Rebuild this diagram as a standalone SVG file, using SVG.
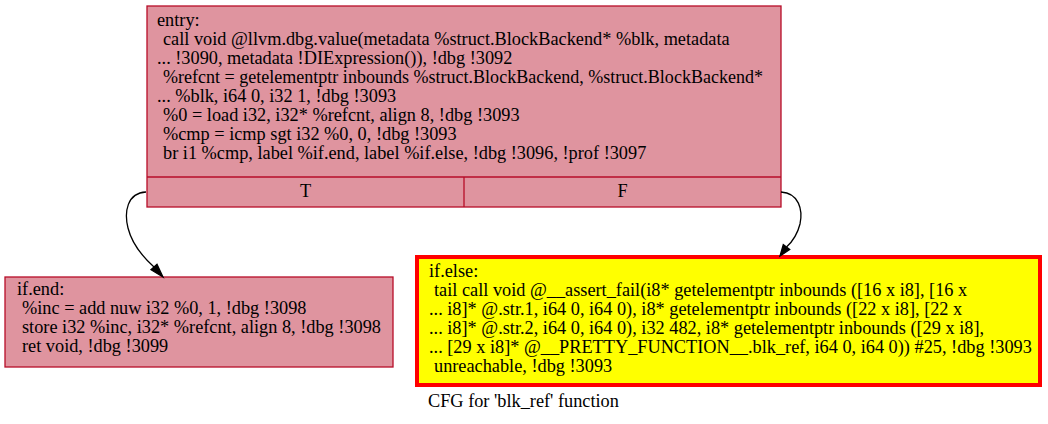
<svg xmlns="http://www.w3.org/2000/svg" width="1048" height="424" viewBox="0 0 1048 424">
<style>
text { font-family: "Liberation Serif", "Times New Roman", serif; font-size: 18.3px; fill: #000; }
.blk { fill: #df949f; stroke: #b70d28; stroke-width: 1.3; }
.sep { stroke: #b70d28; stroke-width: 1.3; fill: none; }
.hot { fill: #ffff00; stroke: #ff0000; stroke-width: 4; }
.edge { fill: none; stroke: #000; stroke-width: 1.3; }
.head { fill: #000; stroke: #000; stroke-width: 1.3; }
</style>
<rect width="1048" height="424" fill="#fff"/>
<g id="entry">
<rect class="blk" x="147" y="6" width="634" height="201"/>
<line class="sep" x1="147" y1="177" x2="781" y2="177"/>
<line class="sep" x1="464" y1="177" x2="464" y2="207"/>
<text x="157" y="26">entry:</text>
<text x="163" y="45">call void @llvm.dbg.value(metadata %struct.BlockBackend* %blk, metadata</text>
<text x="157" y="64">... !3090, metadata !DIExpression()), !dbg !3092</text>
<text x="163" y="83" textLength="600" lengthAdjust="spacingAndGlyphs">%refcnt = getelementptr inbounds %struct.BlockBackend, %struct.BlockBackend*</text>
<text x="157" y="102">... %blk, i64 0, i32 1, !dbg !3093</text>
<text x="163" y="121">%0 = load i32, i32* %refcnt, align 8, !dbg !3093</text>
<text x="163" y="140">%cmp = icmp sgt i32 %0, 0, !dbg !3093</text>
<text x="163" y="159">br i1 %cmp, label %if.end, label %if.else, !dbg !3096, !prof !3097</text>
<text x="305.5" y="197" text-anchor="middle">T</text>
<text x="622.5" y="197" text-anchor="middle">F</text>
</g>
<g id="if_end">
<rect class="blk" x="5" y="277" width="388" height="90"/>
<text x="17" y="295">if.end:</text>
<text x="22" y="314">%inc = add nuw i32 %0, 1, !dbg !3098</text>
<text x="22" y="333">store i32 %inc, i32* %refcnt, align 8, !dbg !3098</text>
<text x="22" y="352">ret void, !dbg !3099</text>
</g>
<g id="if_else">
<rect class="hot" x="417" y="257" width="623" height="128"/>
<text x="429" y="277">if.else:</text>
<text x="434" y="296">tail call void @__assert_fail(i8* getelementptr inbounds ([16 x i8], [16 x</text>
<text x="429" y="315">... i8]* @.str.1, i64 0, i64 0), i8* getelementptr inbounds ([22 x i8], [22 x</text>
<text x="429" y="334">... i8]* @.str.2, i64 0, i64 0), i32 482, i8* getelementptr inbounds ([29 x i8],</text>
<text x="429" y="353">... [29 x i8]* @__PRETTY_FUNCTION__.blk_ref, i64 0, i64 0)) #25, !dbg !3093</text>
<text x="434" y="372">unreachable, !dbg !3093</text>
</g>
<g id="edges">
<path class="edge" d="M146,192 C127,193 124,212 128,228 C132,244 144,258 154,267"/>
<polygon class="head" points="163,277 151,269.7 157,264.3"/>
<path class="edge" d="M781,192 C799,193 803,210 800,224 C797,236 792,242 786.5,247"/>
<polygon class="head" points="780,256 783.3,244.7 789.7,249.5"/>
</g>
<text x="428" y="407">CFG for 'blk_ref' function</text>
</svg>
